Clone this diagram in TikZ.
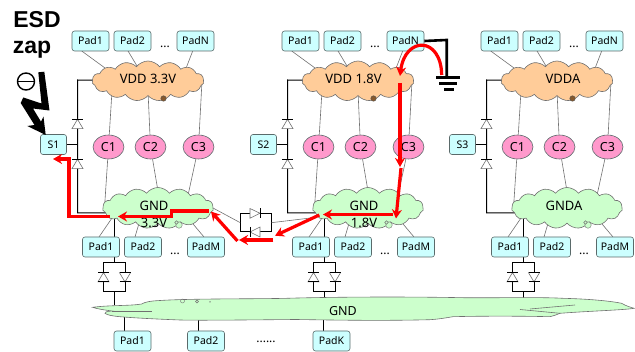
\documentclass[tikz,border=0pt]{standalone}
\usepackage{fontspec}
\setmainfont{Noto Sans}
\newfontfamily\boldarial[BoldFont={Liberation Sans Bold}]{Liberation Sans}
\usetikzlibrary{shapes.geometric,shapes.symbols,arrows.meta,backgrounds,calc}
\definecolor{padfill}{HTML}{CCFFFF}
\definecolor{padline}{HTML}{5A6A6A}
\definecolor{vddfill}{HTML}{FFCC99}
\definecolor{gndfill}{HTML}{CCFFCC}
\definecolor{capfill}{HTML}{FF99CC}
\definecolor{thin}{HTML}{707070}
\tikzset{
  padbox/.style={draw=padline,fill=padfill,rounded corners=2.5pt,minimum width=37pt,minimum height=20pt,inner sep=0pt,font=\fontsize{10.5}{12}\selectfont,line width=.6pt},
  sbox/.style={padbox,minimum width=26pt,minimum height=20pt},
  capnode/.style={draw=padline,fill=capfill,ellipse,minimum width=31pt,minimum height=24pt,inner sep=0pt,font=\fontsize{12.5}{14}\selectfont,line width=.6pt},
  vddcloud/.style={draw=thin,fill=vddfill,cloud,cloud puffs=15,cloud puff arc=105,aspect=3,minimum width=112pt,minimum height=40pt,inner sep=0pt,line width=.6pt},
  gndcloud/.style={vddcloud,fill=gndfill,minimum width=111pt,minimum height=41pt},
  ctext/.style={font=\fontsize{13}{15}\selectfont,inner sep=0pt},
  dots/.style={font=\fontsize{12}{12}\selectfont,inner sep=0pt},
  thinline/.style={draw=thin,line width=.6pt},
  wire/.style={draw=black,line width=1pt},
  dtri/.style={draw=thin,fill=white,line width=.6pt},
  zap/.style={draw=red,line width=3.2pt,-{Stealth[length=9pt,width=10pt]},line join=miter},
  gndbar/.style={draw=black,line width=3pt},
}
\newcommand{\diodeup}[2]{%
  \draw[dtri] (#1,#2) -- (#1-5.5,#2+9.3) -- (#1+5.5,#2+9.3) -- cycle;
  \draw[wire] (#1-5.5,#2) -- (#1+5.5,#2);}
\newcommand{\diodedown}[2]{%
  \draw[dtri] (#1,#2) -- (#1-5.5,#2-9.3) -- (#1+5.5,#2-9.3) -- cycle;
  \draw[wire] (#1-5.5,#2) -- (#1+5.5,#2);}
\newcommand{\padcolumn}[6]{% #1 shift, #2 prefix, #3 Sname, #4 vdd text, #5 vdd text x, #6 gnd texts
  \begin{scope}[shift={(#1,0)},name prefix=#2-]
    \node[padbox] (t1) at (90.5,41) {Pad1};
    \node[padbox] (t2) at (132.5,41) {Pad2};
    \node[padbox] (t3) at (195.5,41) {PadN};
    \node[dots] (td) at (165,47) {...};
    \node[vddcloud] (V) at (148,81) {};
    \node[ctext] (Vt) at (#5,79) {#4};
    \node[circle,draw=black!70,fill=brown!70!black,inner sep=0pt,minimum size=5.5pt] (Vb) at (163.5,98.5) {};
    \node[sbox] (S) at (53.5,144.5) {#3};
    \node[capnode] (c1) at (108.5,147) {C1};
    \node[capnode] (c2) at (150.5,147) {C2};
    \node[capnode] (c3) at (198.5,147) {C3};
    \node[gndcloud] (G) at (158,208) {};
    \node[circle,draw=thin,fill=gndfill,inner sep=0pt,minimum size=6.5pt] (Gb) at (179,225) {};
    \node[circle,draw=thin,fill=gndfill,inner sep=0pt,minimum size=3.5pt] (Gc) at (176.5,222.5) {};
    \node[padbox] (b1) at (101,247) {Pad1};
    \node[padbox] (b2) at (143,247) {Pad2};
    \node[padbox] (b3) at (206,247) {PadM};
    \node[dots] (bd) at (175,254) {...};
    #6
    \coordinate (railtop) at (77.5,80);
    \coordinate (railbot) at (77.5,213);
    \coordinate (rs) at (77.5,144.5);
    \begin{scope}[on background layer]
      \draw[thinline] (81.7,51) -- ([shift={(-43,-13)}]V.center);
      \draw[thinline] (128,51) -- ([shift={(-8,-10)}]V.center);
      \draw[thinline] (192.7,51) -- ([shift={(37,-10)}]V.center);
      \draw[thinline] ([shift={(-36,10)}]V.center) -- (c1);
      \draw[thinline] ([shift={(0,10)}]V.center) -- (c2);
      \draw[thinline] ([shift={(54,0)}]V.center) -- (c3);
      \draw[thinline] (c1) -- (104.5,208);
      \draw[thinline] (c2) -- (159.5,200);
      \draw[thinline] (c3) -- (187,200);
      \draw[thinline] (112,218) -- (99,237);
      \draw[thinline] (140,220) -- (135,237);
      \draw[thinline] (188,218) -- (204,237);
      \draw[wire] (V.center) -- (railtop) -- (railbot) -- (G.center |- railbot);
      \draw[wire] (S) -- (rs);
      \draw[wire] (114.3,215) -- (114.3,237);
      \draw[wire] (114.3,250) -- (114.3,262.3) -- (103.5,262.3) -- (103.5,291.6) -- (125,291.6) -- (125,262.3) -- (114.3,262.3);
      \draw[wire] (114.3,291.6) -- (114.3,305);
    \end{scope}
    \diodeup{77.5}{119.3}
    \diodeup{77.5}{159.3}
    \diodeup{103.5}{272.5}
    \draw[wire] (98,282) -- (109,282);
    \diodedown{125}{282}
    \draw[wire] (119.5,272.5) -- (130.5,272.5);
  \end{scope}
}
\begin{document}
\begin{tikzpicture}[x=1pt,y=-1pt]
\useasboundingbox (0,0) rectangle (635,352);

% bottom common ground
\path[draw=thin,fill=gndfill,line width=.6pt]
  (92.7,307.3) .. controls (110,305) and (130,306) .. (141.7,304)
  .. controls (145,302) and (150,301) .. (160,300.5)
  .. controls (190,298.5) and (260,299) .. (286.7,298.3)
  .. controls (330,297) and (400,296.5) .. (463,297.7)
  .. controls (500,298) and (540,297) .. (563,298.3)
  .. controls (590,299) and (610,301) .. (621.7,303.3)
  .. controls (626,306) and (630,307) .. (634,308.3)
  .. controls (625,310) and (590,311) .. (560,313.3)
  .. controls (556,315) and (553,316) .. (550,316.7)
  .. controls (520,316) and (480,316) .. (453,316.7)
  .. controls (445,318) and (440,319) .. (430,319.7)
  .. controls (380,321) and (330,320) .. (296,319.5)
  .. controls (240,320) and (200,320.5) .. (180,320)
  .. controls (155,319) and (135,318) .. (120,316.7)
  .. controls (112,316) and (107,315) .. (105,313.3)
  .. controls (105,312) and (106,311.5) .. (112,311)
  .. controls (105,310) and (97,309) .. (92.7,307.3) -- cycle;
\draw[thinline] (112,311) -- (152,311);
\draw[thinline] (530,309) -- (575,305);
\draw[thinline] (520,309.5) -- (560,313.3);
\node[circle,draw=thin,inner sep=0pt,minimum size=4pt] (bb1) at (182.5,301) {};
\node[circle,draw=thin,inner sep=0pt,minimum size=3pt] (bb2) at (197,301.5) {};
\node[circle,fill=thin,inner sep=0pt,minimum size=1.5pt] (bb3) at (210,302) {};
\node[ctext,font=\fontsize{12.5}{14}\selectfont] (BG) at (343,311.5) {GND};

\padcolumn{0}{a}{S1}{VDD 3.3V}{148}{\node[ctext] (Gt) at (154,206) {GND};\node[ctext] (Gs) at (154,223) {3.3V};}
\padcolumn{210}{b}{S2}{VDD 1.8V}{143.5}{\node[ctext] (Gt) at (154,206) {GND};\node[ctext] (Gs) at (154,223) {1.8V};}
\padcolumn{409}{c}{S3}{VDDA}{154}{\node[ctext] (Gt) at (155,206) {GNDA};}

% bottom pads
\node[padbox] (p1) at (132.5,341) {Pad1};
\node[padbox] (p2) at (206,341) {Pad2};
\node[padbox] (p3) at (331.5,341) {PadK};
\node[dots] (pd) at (266,342) {......};
\coordinate (q1) at (124.7,316);
\coordinate (q2) at (198.3,318);
\coordinate (q3) at (323.3,318);
\begin{scope}[on background layer]
  \draw[wire] (p1.north -| q1) -- (q1);
  \draw[wire] (p2.north -| q2) -- (q2);
  \draw[wire] (p3.north -| q3) -- (q3);
\end{scope}

% inter-domain diodes
\node[inner sep=0pt,minimum size=0pt] (da) at (240.3,222.7) {};
\node[inner sep=0pt,minimum size=0pt] (db) at (271.3,222.7) {};
\draw[wire] (240.3,213.3) rectangle (271.3,232);
\draw[thinline] (213,208) -- (da);
\draw[thinline] (db) -- (313,217.7);
\draw[dtri] (260,213.3) -- (250,208.5) -- (250,218.2) -- cycle;
\draw[wire] (260,208.5) -- (260,218.2);
\draw[dtri] (250,232) -- (260,227) -- (260,237) -- cycle;
\draw[wire] (250,227) -- (250,237);

% ESD zap
\node[font=\boldarial\bfseries\fontsize{23}{24}\selectfont,anchor=base,inner sep=0pt] (esd) at (37,28) {ESD};
\node[font=\boldarial\bfseries\fontsize{23}{24}\selectfont,anchor=base,inner sep=0pt] (zp) at (32,54) {zap};
\node[circle,draw=black,line width=1.4pt,minimum size=17pt,inner sep=0pt] (minus) at (26,81.5) {};
\draw[black,line width=1.4pt] (minus.west) -- (minus.east);
\fill[black] (38.3,72.3) -- (44.3,71.7) -- (49.5,110.5) -- (33,108.5) -- (41,121.7) -- (43.5,116.7) -- (45.7,135) -- (27.3,126) -- (34.5,125) -- (20.7,103) -- (23.3,97.5) -- (41.5,103.5) -- cycle;

% ground symbol
\coordinate (gt) at (446.7,77);
\draw[black,line width=2.6pt,line join=miter] (b-t3.east) -- (446.7,40) -- (gt);
\draw[gndbar] (436,77.3) -- (460,77.3);
\draw[gndbar] (439,84) -- (457,84);
\draw[gndbar] (444,89.5) -- (454,89.5);

% discharge path
\coordinate (z0) at (441.7,75);
\coordinate (z1) at (400,76);
\coordinate (z2) at (400,83);
\coordinate (z3) at (400,167);
\coordinate (z4) at (401,168);
\coordinate (z5) at (396,218.5);
\coordinate (z6) at (393.3,214.5);
\coordinate (z7) at (323,214.5);
\coordinate (z8) at (319.3,215);
\coordinate (z9) at (275,235.7);
\coordinate (z10) at (273.3,240);
\coordinate (z11) at (239,240);
\coordinate (z12) at (237.5,241);
\coordinate (z13) at (211,211.5);
\coordinate (z14) at (209,211);
\coordinate (z15) at (118,216.5);
\coordinate (z16) at (110,216.5);
\coordinate (z17) at (53,159);
\draw[zap] (z0) .. controls (441,36) and (405,36) .. (z1);
\draw[zap] (z2) -- (z3);
\draw[zap] (z4) -- (z5);
\draw[zap] (z6) -- (z7);
\draw[zap] (z8) -- (z9);
\draw[zap] (z10) -- (z11);
\draw[zap] (z12) -- (z13);
\draw[zap] (z14) -- (171.7,211) -- (171.7,216.5) -- (z15);
\draw[zap] (z16) -- (69,216.5) -- (69,159) -- (z17);
\end{tikzpicture}
\end{document}
